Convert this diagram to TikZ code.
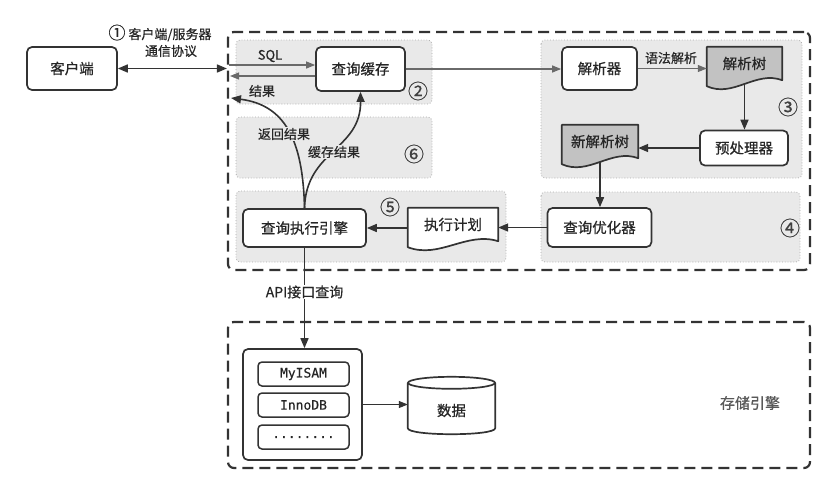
\documentclass[tikz,border=0pt]{standalone}
\usepackage{fontspec}
\setmainfont{Noto Sans CJK SC}[FakeBold=0.6]
\newfontfamily\monofont{DejaVu Sans Mono}[FakeBold=0.4]
\usetikzlibrary{arrows.meta,calc}
\pgfdeclarelayer{back}\pgfdeclarelayer{bg}\pgfdeclarelayer{mid}
\pgfsetlayers{back,bg,mid,main}
\definecolor{linec}{HTML}{333333}
\definecolor{regfill}{HTML}{E9E9E9}
\definecolor{regline}{HTML}{ABABAB}
\definecolor{docfill}{HTML}{C2C2C2}
\definecolor{thinc}{HTML}{6A6A6A}
\tikzset{
 box/.style={draw=linec, line width=1.7pt, rounded corners=5pt, fill=white, inner sep=0pt, font=\fontsize{14.5}{16}\selectfont, text=black!85},
 monobox/.style={draw=linec, line width=1.5pt, rounded corners=4pt, fill=white, inner sep=0pt, minimum width=91pt, minimum height=24pt, font=\monofont\fontsize{13}{15}\selectfont, text=black!85},
 docnode/.style={draw=none, inner sep=0pt, font=\fontsize{14.5}{16}\selectfont, text=black!85},
 docline/.style={draw=linec, line width=1.7pt, line join=round},
 region/.style={fill=regfill, draw=regline, dotted, line width=0.8pt, rounded corners=4pt},
 dashbox/.style={draw=linec, line width=2.2pt, dash pattern=on 11pt off 6pt, rounded corners=6pt},
 darrow/.style={draw=linec, line width=1.6pt, -{Triangle[length=10pt,width=8pt]}},
 garrow/.style={draw=thinc, line width=1.1pt, -{Triangle[length=9pt,width=7pt]}},
 lbl/.style={font=\fontsize{13}{15}\selectfont, text=black!85, inner sep=1pt},
 num/.style={font=\fontsize{20}{21}\selectfont, text=black!75, inner sep=0pt},
}
\newcommand\mydocshape[2]{%
 \begin{pgfonlayer}{mid}
 \path[docline, fill=#2] (#1.north west) -- (#1.north east) -- (#1.south east)
 .. controls ($(#1.south east)!0.35!(#1.south west)+(0,-10)$) and ($(#1.south east)!0.65!(#1.south west)+(0,18)$) .. ($(#1.south west)+(0,6)$) -- cycle;
 \end{pgfonlayer}}
\begin{document}
\begin{tikzpicture}[x=1pt,y=-1pt]
\useasboundingbox (0,0) rectangle (835,488);
\begin{pgfonlayer}{back}
\fill[white] (0,0) rectangle (835,488);
\end{pgfonlayer}
% containers
\node[dashbox, minimum width=582pt, minimum height=238pt] (server) at (519,151) {};
\node[dashbox, minimum width=582pt, minimum height=146pt] (storage) at (519,395) {};
% regions
\begin{pgfonlayer}{bg}
\draw[region] (236,40) rectangle (432,104);
\draw[region] (236,117) rectangle (432,178);
\draw[region] (236,191) rectangle (506,262);
\draw[region] (541,40) rectangle (802,178);
\draw[region] (541,192) rectangle (800,262);
\end{pgfonlayer}
% nodes
\node[box, minimum width=90pt, minimum height=43pt] (client) at (72,68.5) {客户端};
\node[box, minimum width=89pt, minimum height=44pt] (cache) at (360.5,69) {查询缓存};
\node[box, minimum width=75pt, minimum height=43pt] (parser) at (599.5,68.5) {解析器};
\node[docnode, minimum width=75pt, minimum height=33pt] (tree) at (744.5,63.5) {解析树};
\mydocshape{tree}{docfill}
\node[box, minimum width=88pt, minimum height=35pt] (pre) at (744,148) {预处理器};
\node[docnode, minimum width=76pt, minimum height=33pt] (newtree) at (600,141.5) {新解析树};
\mydocshape{newtree}{docfill}
\node[box, minimum width=104pt, minimum height=39pt] (optimizer) at (599.5,227.5) {查询优化器};
\node[docnode, minimum width=90pt, minimum height=33pt] (plan) at (453,224.5) {执行计划};
\mydocshape{plan}{white}
\node[box, minimum width=123pt, minimum height=38pt] (engine) at (304.5,228) {查询执行引擎};
\node[box, fill=white, minimum width=119pt, minimum height=111pt] (container) at (302.5,404.5) {};
\node[monobox] (myisam) at (303.5,374) {MyISAM};
\node[monobox] (innodb) at (303.5,405) {InnoDB};
\node[monobox] (more) at (303.5,437) {........};
\node[draw=none, minimum width=87pt, minimum height=57pt, inner sep=0pt,
 label={[yshift=-5pt, font=\fontsize{14.5}{16}\selectfont, text=black!85]center:数据}] (data) at (451.5,405.5) {};
\begin{pgfonlayer}{mid}
\path[docline, fill=white] ($(data.north west)+(0,6)$) -- ($(data.south west)+(0,-6)$)
 .. controls ($(data.south west)+(0,2)$) and ($(data.south east)+(0,2)$) .. ($(data.south east)+(0,-6)$)
 -- ($(data.north east)+(0,6)$) -- cycle;
\path[docline, fill=white] ($(data.north)+(0,6)$) ellipse [x radius=43.5pt, y radius=6pt];
\end{pgfonlayer}
% labels
\node[lbl] (proto1) at (160,33) {{\fontsize{17}{17}\selectfont ①} 客户端/服务器};
\node[lbl] (proto2) at (171,51) {通信协议};
\node[lbl] (sqllbl) at (270,56) {SQL};
\node[lbl] (reslbl) at (262,91) {结果};
\node[lbl] (synlbl) at (671,58) {语法解析};
\node[num] (n2) at (418,91) {②};
\node[num] (n3) at (788,107) {③};
\node[num] (n4) at (790,228) {④};
\node[num] (n5) at (390,207) {⑤};
\node[num] (n6) at (414,154) {⑥};
\node[font=\fontsize{15}{16}\selectfont, text=black!65] (stlbl) at (750,403) {存储引擎};
% connectors
\draw[darrow, {Triangle[length=10pt,width=8pt]}-{Triangle[length=10pt,width=8pt]}] (client.east) -- (client.east -| server.west);
\coordinate (sqlin) at (229,65);
\coordinate (resout) at (230,76);
\coordinate (retin) at (231,98);
\draw[garrow] (sqlin) -- (sqlin -| cache.west);
\draw[garrow] (resout -| cache.west) -- (resout);
\draw[garrow] (cache.east) -- (cache.east -| parser.west);
\draw[garrow] (parser.east) -- (parser.east -| tree.west);
\draw[darrow] ([yshift=-4pt]tree.south) -- (tree.south |- pre.north);
\draw[darrow] (pre.west) -- (pre.west -| newtree.east);
\draw[darrow] ([yshift=-4pt]newtree.south) -- (newtree.south |- optimizer.north);
\draw[darrow] (optimizer.west) -- (optimizer.west -| plan.east);
\draw[darrow] (engine.east -| plan.west) -- (engine.east);
\draw[darrow] (engine.north) .. controls (303,140) and (285,105) .. (retin);
\draw[darrow] (engine.north) .. controls (306,150) and (361,150) .. (cache.south);
\node[lbl, fill=regfill] (retlbl) at (284,134) {返回结果};
\node[lbl, fill=regfill] (cachelbl) at (334,152) {缓存结果};
\draw[darrow] (engine.south) -- node[pos=0.44, fill=white, font=\fontsize{14}{16}\selectfont, text=black!85, inner sep=1pt] (apilbl) {API接口查询} (engine.south |- container.north);
\draw[garrow, draw=linec] (container.east) -- (container.east -| data.west);
\end{tikzpicture}
\end{document}
